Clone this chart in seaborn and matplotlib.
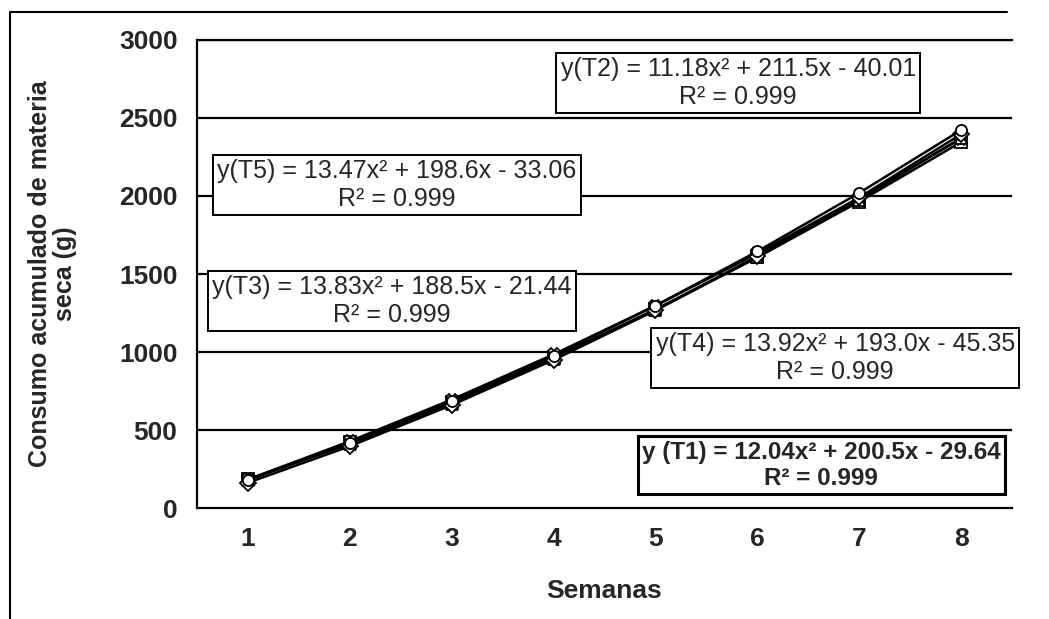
import matplotlib
matplotlib.use("Agg")
import matplotlib.pyplot as plt
import matplotlib.lines as mlines
import pandas as pd
import seaborn as sns

# Weekly cumulative dry matter intake (g)
semanas = [1, 2, 3, 4, 5, 6, 7, 8]
t1 = [183, 420, 680, 965, 1273, 1607, 1964, 2346]
t2 = [183, 428, 695, 985, 1297, 1632, 1988, 2368]
t3 = [181, 411, 669, 954, 1267, 1607, 1976, 2372]
t4 = [162, 396, 660, 949, 1268, 1615, 1991, 2396]
t5 = [179, 418, 683, 976, 1297, 1645, 2020, 2423]
tratamientos = ["T1", "T2", "T3", "T4", "T5"]
y_ticks = [0, 500, 1000, 1500, 2000, 2500, 3000]

ecuaciones = {
    "T2": "y(T2) = 11.18x² + 211.5x - 40.01\nR² = 0.999",
    "T5": "y(T5) = 13.47x² + 198.6x - 33.06\nR² = 0.999",
    "T3": "y(T3) = 13.83x² + 188.5x - 21.44\nR² = 0.999",
    "T4": "y(T4) = 13.92x² + 193.0x - 45.35\nR² = 0.999",
    "T1": "y (T1) = 12.04x² + 200.5x - 29.64\nR² = 0.999",
}

df = pd.DataFrame({
    "Semanas": semanas * 5,
    "Consumo": t1 + t2 + t3 + t4 + t5,
    "Tratamiento": [t for t in tratamientos for _ in semanas],
})

sns.set_style("white")
plt.rcParams["font.family"] = ["Liberation Sans", "DejaVu Sans"]

fig = plt.figure(figsize=(10.49, 6.19), dpi=100)
ax = fig.add_axes([0.1878, 0.1793, 0.777, 0.7561])

# gridlines behind everything
for v in y_ticks[1:]:
    ax.axhline(v, color="black", lw=1.6, zorder=1)

sns.lineplot(
    data=df, x="Semanas", y="Consumo", hue="Tratamiento", style="Tratamiento",
    palette=["black"] * 5, markers=["s", "X", "^", "D", "o"], dashes=False,
    linewidth=1.8, markersize=8, markerfacecolor="white", markeredgecolor="black",
    markeredgewidth=1.3, legend=False, ax=ax, zorder=3,
)

ax.set_xlim(0.5, 8.5)
ax.set_ylim(0, 3000)
ax.set_xticks(semanas)
ax.set_yticks(y_ticks)
ax.tick_params(axis="both", length=0, labelsize=19, pad=14)
for lab in ax.get_xticklabels() + ax.get_yticklabels():
    lab.set_fontweight("bold")

ax.set_xlabel("Semanas", fontsize=19, fontweight="bold", labelpad=20)
ax.set_ylabel("Consumo acumulado de materia\nseca (g)", fontsize=18,
              fontweight="bold", labelpad=30, linespacing=1.05)

for side in ["left", "bottom", "top"]:
    ax.spines[side].set_visible(True)
    ax.spines[side].set_color("black")
    ax.spines[side].set_linewidth(1.6)
ax.spines["right"].set_visible(False)

# equation boxes
posiciones = {
    "T2": (0.664, 0.908),
    "T5": (0.245, 0.690),
    "T3": (0.239, 0.442),
    "T4": (0.783, 0.320),
    "T1": (0.766, 0.091),
}
for t, (px, py) in posiciones.items():
    negrita = t == "T1"
    ax.text(px, py, ecuaciones[t], transform=ax.transAxes, ha="center", va="center",
            multialignment="center", fontsize=17.5 if negrita else 18,
            fontweight="bold" if negrita else "normal", linespacing=1.2, zorder=5,
            bbox=dict(boxstyle="square,pad=0.17", facecolor="white", edgecolor="black",
                      linewidth=2.2 if negrita else 1.4))

# outer frame of the scanned figure
fig.add_artist(mlines.Line2D([0.0095, 0.0095], [0.0, 0.981], color="black", lw=1.5))
fig.add_artist(mlines.Line2D([0.0095, 0.96], [0.981, 0.981], color="black", lw=1.5))

fig.savefig("out.png", dpi=100)
